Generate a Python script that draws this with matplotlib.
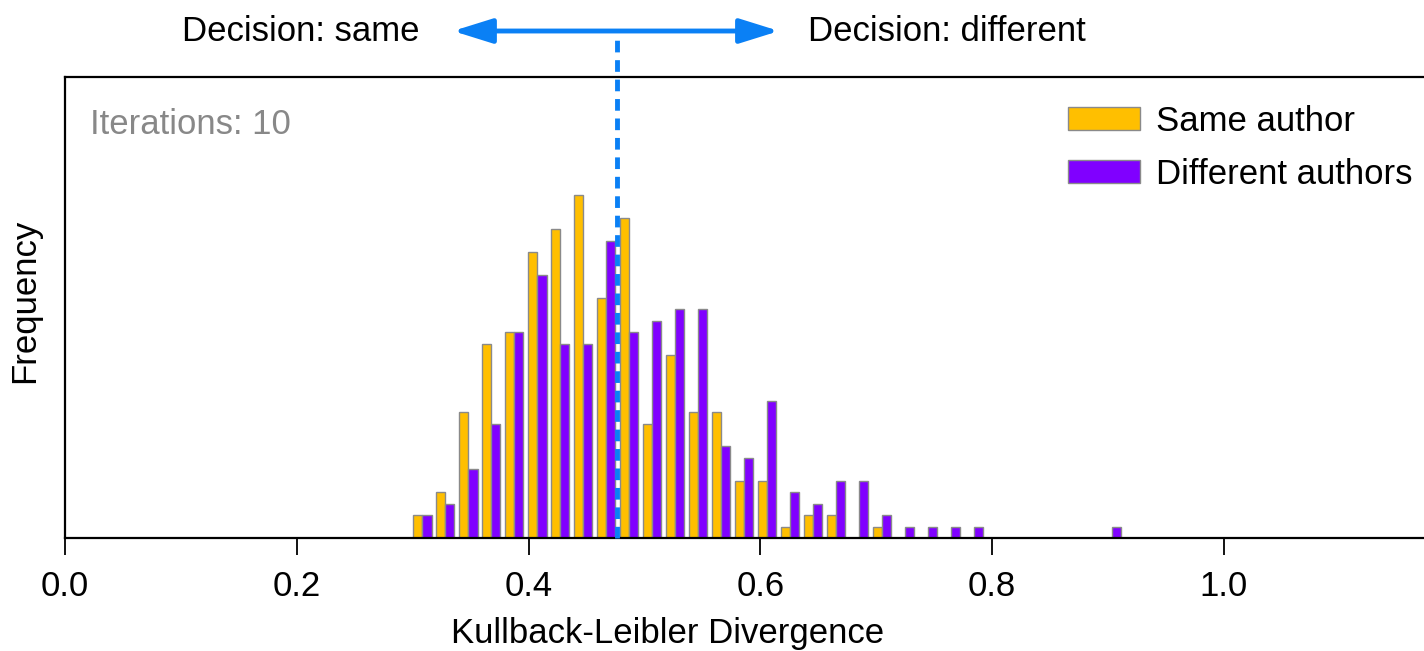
import numpy as np
import matplotlib
matplotlib.use("Agg")
import matplotlib.pyplot as plt

plt.rcParams['font.family'] = ['Liberation Sans', 'DejaVu Sans']

# left edges of the histogram bins (KL divergence)
bin_left = [0.3005, 0.3203, 0.3402, 0.3600, 0.3798, 0.3997, 0.4195, 0.4393,
            0.4591, 0.4790, 0.4988, 0.5186, 0.5385, 0.5583, 0.5781, 0.5980,
            0.6178, 0.6376, 0.6574, 0.6773, 0.6971, 0.7169, 0.7368, 0.7566,
            0.7764, 0.7963, 0.8161, 0.8359, 0.8558, 0.8756, 0.8954]
same_author = [2, 4, 11, 17, 18, 25, 27, 30, 21, 28, 10, 16, 11, 11, 5, 5,
               1, 2, 2, 0, 1, 0, 0, 0, 0, 0, 0, 0, 0, 0, 0]
diff_authors = [2, 3, 6, 10, 18, 23, 17, 17, 26, 18, 19, 20, 20, 8, 7, 12,
                4, 3, 5, 5, 2, 1, 1, 1, 1, 0, 0, 0, 0, 0, 1]
threshold = 0.476
xticks = [0.0, 0.2, 0.4, 0.6, 0.8, 1.0]

orange = '#FFBF00'
purple = '#8000FF'
blue = '#0A80F5'
fs = 25

fig = plt.figure(figsize=(14.24, 6.51), dpi=100)
ax = fig.add_axes([0.0456, 0.1736, 0.9544, 0.7081])

bw = 0.0079
x = np.array(bin_left)
ax.bar(x, same_author, width=bw, align='edge', color=orange,
       edgecolor='#8a8a8a', linewidth=1, label='Same author', zorder=2)
ax.bar(x + bw, diff_authors, width=bw, align='edge', color=purple,
       edgecolor='#8a8a8a', linewidth=1, label='Different authors', zorder=2)

ax.set_xlim(0, 1.1726)
ax.set_ylim(0, 40.3)
ax.set_yticks([])
ax.set_xticks(xticks)
ax.set_xticklabels(['%.1f' % t for t in xticks], fontsize=fs)
ax.tick_params(axis='x', direction='out', length=12, width=1.3, pad=11)
for s in ['left', 'bottom', 'top']:
    ax.spines[s].set_linewidth(1.6)
ax.spines['right'].set_visible(False)

ax.set_xlabel('Kullback-Leibler Divergence', fontsize=fs, labelpad=10)
ax.xaxis.label.set_x(0.4437)
ax.set_ylabel('Frequency', fontsize=fs, labelpad=17)
ax.yaxis.label.set_y(0.514)

# decision threshold
trans = ax.get_xaxis_transform()
ax.plot([threshold, threshold], [0, 1.085], transform=trans, color=blue,
        lw=3.5, linestyle=(0, (2.4, 1.6)), clip_on=False, zorder=3)
ax.annotate('', xy=(0.3348, 1.0998), xytext=(0.6161, 1.0998),
            xycoords=trans, textcoords=trans,
            arrowprops=dict(arrowstyle='<|-|>,head_length=2.4,head_width=0.75',
                            color=blue, lw=3.5, shrinkA=0, shrinkB=0))
ax.text(0.3063, 1.0998, 'Decision: same', transform=trans, fontsize=fs,
        ha='right', va='center')
ax.text(0.6411, 1.0998, 'Decision: different', transform=trans, fontsize=fs,
        ha='left', va='center')

ax.text(0.0184, 0.898, 'Iterations: 10', transform=ax.transAxes, fontsize=fs,
        color='#888888', ha='left', va='center')

ax.legend(loc='upper left', bbox_to_anchor=(0.738, 0.9395), frameon=False,
          fontsize=fs, handlelength=2.07, handleheight=0.65, handletextpad=0.48,
          labelspacing=0.58, borderpad=0, borderaxespad=0)

fig.savefig('out.png', dpi=100)
